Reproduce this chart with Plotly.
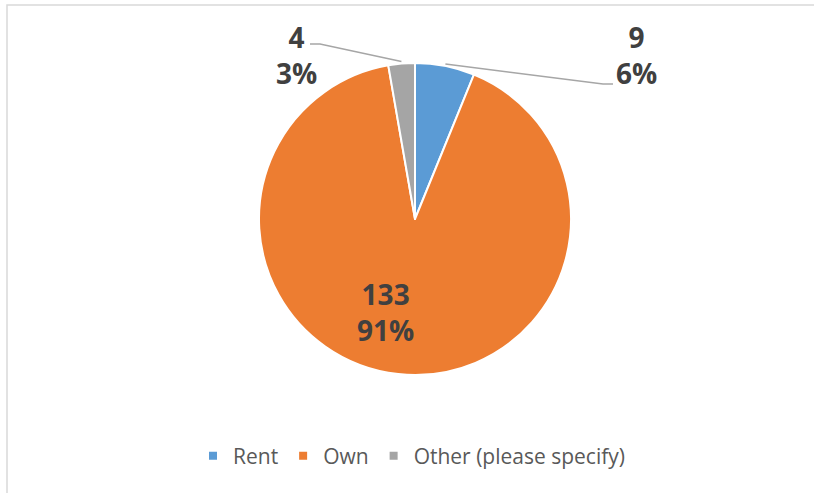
import math
import plotly.graph_objects as go

# ---- data ----
categories = ["Rent", "Own", "Other (please specify)"]
values = [9, 133, 4]
colors = ["#5B9BD5", "#ED7D31", "#A5A5A5"]

W, H = 814, 493
# pie geometry (pixels)
CX, CY, R = 415, 219, 156


def px(x):
    return x / W


def py(y):
    return 1 - y / H


total = sum(values)
pcts = [round(v / total * 100) for v in values]

fig = go.Figure()

fig.add_trace(go.Pie(
    labels=categories,
    values=values,
    sort=False,
    direction="clockwise",
    rotation=0,
    marker=dict(colors=colors, line=dict(color="white", width=2)),
    textinfo="none",
    domain=dict(x=[px(CX - R), px(CX + R)], y=[py(CY + R), py(CY - R)]),
    showlegend=False,
    hoverinfo="label+value+percent",
))

# legend entries
for name, col in zip(categories, colors):
    fig.add_trace(go.Scatter(
        x=[None], y=[None], mode="markers", name=name,
        marker=dict(symbol="square", size=8, color=col),
        showlegend=True,
    ))

# slice mid angles
cum = 0
mids = []
for v in values:
    mids.append((cum + v / 2) / total * 2 * math.pi)
    cum += v

label_font = dict(family="Open Sans", size=28, color="#404040", weight="bold")
label_layout = {
    0: dict(center=(636, 55), elbow=(603, 84), end=(613, 84)),
    1: dict(center=(385, 312)),
    2: dict(center=(296, 55), elbow=(320, 44), end=(310, 44)),
}
shapes = []
annotations = []
for i, lay in label_layout.items():
    if "elbow" in lay:
        a = mids[i]
        sx = CX + (R + 2) * math.sin(a)
        sy = CY - (R + 2) * math.cos(a)
        shapes.append(dict(
            type="path", xref="paper", yref="paper",
            path=(f"M{px(sx)},{py(sy)} L{px(lay['elbow'][0])},{py(lay['elbow'][1])} "
                  f"L{px(lay['end'][0])},{py(lay['end'][1])}"),
            line=dict(color="#A6A6A6", width=1.5)))
    annotations.append(dict(
        xref="paper", yref="paper", x=px(lay["center"][0]), y=py(lay["center"][1]),
        text=f"{values[i]}<br>{pcts[i]}%", showarrow=False,
        font=label_font, xanchor="center", yanchor="middle", align="center",
    ))

# chart border
shapes.append(dict(type="rect", xref="paper", yref="paper",
                   x0=px(7), x1=1.2, y0=-0.2, y1=py(5),
                   line=dict(color="#D9D9D9", width=1.5)))

fig.update_layout(
    width=W, height=H,
    margin=dict(l=0, r=0, t=0, b=0),
    paper_bgcolor="white", plot_bgcolor="white",
    xaxis=dict(visible=False), yaxis=dict(visible=False),
    shapes=shapes, annotations=annotations,
    legend=dict(orientation="h", x=px(193), xanchor="left", y=py(456), yanchor="middle",
                font=dict(family="Open Sans", size=21, color="#595959"),
                itemwidth=30, bgcolor="rgba(0,0,0,0)"),
    font=dict(family="Open Sans"),
)

fig.write_html("out.html", config={"displayModeBar": False},
               post_script="document.body.style.margin='0';")
